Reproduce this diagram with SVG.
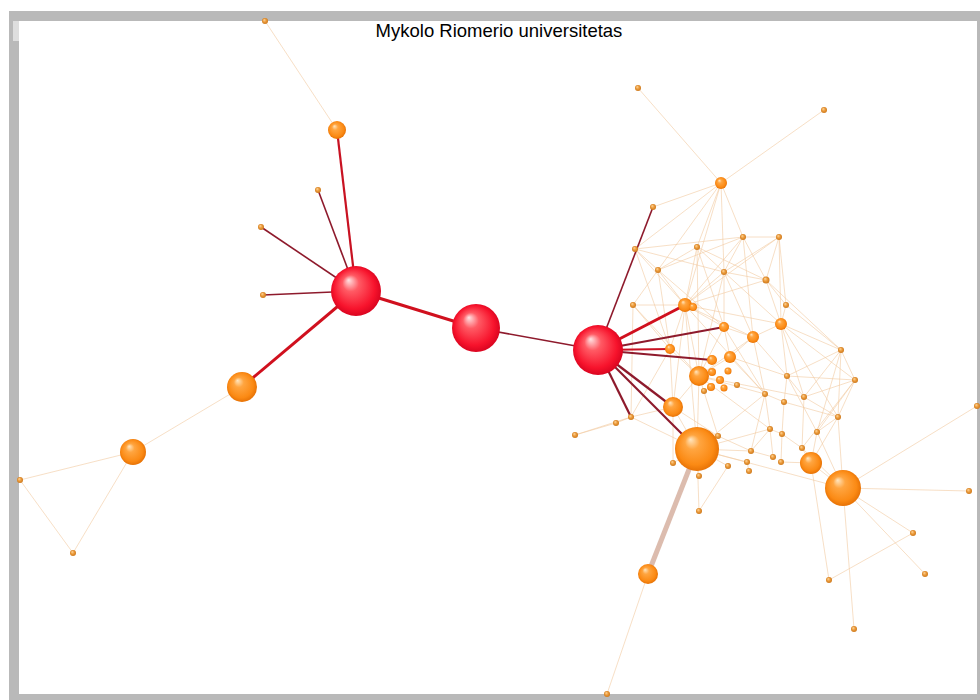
<svg xmlns="http://www.w3.org/2000/svg" width="980" height="700" viewBox="0 0 980 700">
<defs>
<radialGradient id="gR" cx="0.5" cy="0.5" r="0.55" fx="0.35" fy="0.28">
<stop offset="0" stop-color="#ffe4e4"/>
<stop offset="0.3" stop-color="#ff5a64"/>
<stop offset="0.75" stop-color="#f7132c"/>
<stop offset="1" stop-color="#d0001c"/>
</radialGradient>
<radialGradient id="gO" cx="0.5" cy="0.5" r="0.55" fx="0.35" fy="0.28">
<stop offset="0" stop-color="#ffe6c0"/>
<stop offset="0.3" stop-color="#ffa540"/>
<stop offset="0.75" stop-color="#fb8a14"/>
<stop offset="1" stop-color="#e06a00"/>
</radialGradient>
<radialGradient id="gS" cx="0.5" cy="0.5" r="0.55" fx="0.35" fy="0.3">
<stop offset="0" stop-color="#ffd9a0"/>
<stop offset="0.5" stop-color="#eb9a3a"/>
<stop offset="1" stop-color="#c97418"/>
</radialGradient>
</defs>
<style>
.r{fill:url(#gR)}
.o{fill:url(#gO)}
.s{fill:url(#gS)}
.lt{stroke:#f1caa0;stroke-width:1;stroke-opacity:0.6;fill:none}
.rd{stroke:#d0101e;stroke-width:3;fill:none}
.rd2{stroke:#c81222;stroke-width:2.2;fill:none}
.mr{stroke:#8e1a2c;stroke-width:1.6;fill:none}
.mr2{stroke:#8e1a2c;stroke-width:2.2;fill:none}
.tan{stroke:#dcbcae;stroke-width:5;fill:none}
.title{font-family:"Liberation Sans",Arial,sans-serif;font-size:18.5px;fill:#000}
</style>
<rect x="9" y="11" width="971" height="689" fill="#b9b9b9"/>
<rect x="19" y="21" width="958" height="673" fill="#ffffff"/>
<rect x="13" y="21" width="6" height="20" fill="#dedede"/>
<text class="title" x="499" y="37" text-anchor="middle">Mykolo Riomerio universitetas</text>
<g id="connectors">
<g id="light-edges">
<line class="lt" x1="265" y1="21" x2="337" y2="130"/>
<line class="lt" x1="242" y1="387" x2="133" y2="452"/>
<line class="lt" x1="133" y1="452" x2="20" y2="480"/>
<line class="lt" x1="133" y1="452" x2="73" y2="553"/>
<line class="lt" x1="20" y1="480" x2="73" y2="553"/>
<line class="lt" x1="721" y1="183" x2="638" y2="88"/>
<line class="lt" x1="721" y1="183" x2="824" y2="110"/>
<line class="lt" x1="721" y1="183" x2="653" y2="207"/>
<line class="lt" x1="721" y1="183" x2="635" y2="249"/>
<line class="lt" x1="721" y1="183" x2="697" y2="247"/>
<line class="lt" x1="721" y1="183" x2="743" y2="237"/>
<line class="lt" x1="721" y1="183" x2="658" y2="270"/>
<line class="lt" x1="721" y1="183" x2="685" y2="305"/>
<line class="lt" x1="721" y1="183" x2="724" y2="272"/>
<line class="lt" x1="635" y1="249" x2="743" y2="237"/>
<line class="lt" x1="635" y1="249" x2="658" y2="270"/>
<line class="lt" x1="635" y1="249" x2="685" y2="305"/>
<line class="lt" x1="635" y1="249" x2="670" y2="349"/>
<line class="lt" x1="635" y1="249" x2="724" y2="272"/>
<line class="lt" x1="697" y1="247" x2="658" y2="270"/>
<line class="lt" x1="697" y1="247" x2="685" y2="305"/>
<line class="lt" x1="697" y1="247" x2="724" y2="327"/>
<line class="lt" x1="697" y1="247" x2="724" y2="272"/>
<line class="lt" x1="697" y1="247" x2="766" y2="280"/>
<line class="lt" x1="697" y1="247" x2="699" y2="376"/>
<line class="lt" x1="743" y1="237" x2="779" y2="237"/>
<line class="lt" x1="743" y1="237" x2="766" y2="280"/>
<line class="lt" x1="743" y1="237" x2="724" y2="272"/>
<line class="lt" x1="743" y1="237" x2="685" y2="305"/>
<line class="lt" x1="743" y1="237" x2="753" y2="337"/>
<line class="lt" x1="743" y1="237" x2="658" y2="270"/>
<line class="lt" x1="779" y1="237" x2="766" y2="280"/>
<line class="lt" x1="779" y1="237" x2="786" y2="305"/>
<line class="lt" x1="779" y1="237" x2="724" y2="272"/>
<line class="lt" x1="779" y1="237" x2="781" y2="324"/>
<line class="lt" x1="779" y1="237" x2="685" y2="305"/>
<line class="lt" x1="658" y1="270" x2="685" y2="305"/>
<line class="lt" x1="658" y1="270" x2="633" y2="305"/>
<line class="lt" x1="658" y1="270" x2="724" y2="327"/>
<line class="lt" x1="658" y1="270" x2="670" y2="349"/>
<line class="lt" x1="724" y1="272" x2="685" y2="305"/>
<line class="lt" x1="724" y1="272" x2="724" y2="327"/>
<line class="lt" x1="724" y1="272" x2="753" y2="337"/>
<line class="lt" x1="724" y1="272" x2="781" y2="324"/>
<line class="lt" x1="724" y1="272" x2="766" y2="280"/>
<line class="lt" x1="724" y1="272" x2="699" y2="376"/>
<line class="lt" x1="766" y1="280" x2="781" y2="324"/>
<line class="lt" x1="766" y1="280" x2="786" y2="305"/>
<line class="lt" x1="766" y1="280" x2="685" y2="305"/>
<line class="lt" x1="766" y1="280" x2="841" y2="350"/>
<line class="lt" x1="633" y1="305" x2="685" y2="305"/>
<line class="lt" x1="633" y1="305" x2="670" y2="349"/>
<line class="lt" x1="633" y1="305" x2="631" y2="417"/>
<line class="lt" x1="633" y1="305" x2="699" y2="376"/>
<line class="lt" x1="685" y1="305" x2="724" y2="327"/>
<line class="lt" x1="685" y1="305" x2="670" y2="349"/>
<line class="lt" x1="685" y1="305" x2="699" y2="376"/>
<line class="lt" x1="685" y1="305" x2="673" y2="407"/>
<line class="lt" x1="685" y1="305" x2="753" y2="337"/>
<line class="lt" x1="685" y1="305" x2="697" y2="449"/>
<line class="lt" x1="685" y1="305" x2="765" y2="394"/>
<line class="lt" x1="685" y1="305" x2="781" y2="324"/>
<line class="lt" x1="786" y1="305" x2="841" y2="350"/>
<line class="lt" x1="786" y1="305" x2="781" y2="324"/>
<line class="lt" x1="724" y1="327" x2="753" y2="337"/>
<line class="lt" x1="724" y1="327" x2="730" y2="357"/>
<line class="lt" x1="724" y1="327" x2="699" y2="376"/>
<line class="lt" x1="724" y1="327" x2="765" y2="394"/>
<line class="lt" x1="781" y1="324" x2="753" y2="337"/>
<line class="lt" x1="781" y1="324" x2="841" y2="350"/>
<line class="lt" x1="781" y1="324" x2="855" y2="380"/>
<line class="lt" x1="781" y1="324" x2="787" y2="376"/>
<line class="lt" x1="781" y1="324" x2="804" y2="397"/>
<line class="lt" x1="781" y1="324" x2="838" y2="417"/>
<line class="lt" x1="753" y1="337" x2="730" y2="357"/>
<line class="lt" x1="753" y1="337" x2="699" y2="376"/>
<line class="lt" x1="753" y1="337" x2="765" y2="394"/>
<line class="lt" x1="753" y1="337" x2="787" y2="376"/>
<line class="lt" x1="670" y1="349" x2="699" y2="376"/>
<line class="lt" x1="670" y1="349" x2="673" y2="407"/>
<line class="lt" x1="670" y1="349" x2="631" y2="417"/>
<line class="lt" x1="730" y1="357" x2="699" y2="376"/>
<line class="lt" x1="730" y1="357" x2="765" y2="394"/>
<line class="lt" x1="730" y1="357" x2="787" y2="376"/>
<line class="lt" x1="841" y1="350" x2="855" y2="380"/>
<line class="lt" x1="841" y1="350" x2="787" y2="376"/>
<line class="lt" x1="841" y1="350" x2="804" y2="397"/>
<line class="lt" x1="841" y1="350" x2="817" y2="432"/>
<line class="lt" x1="841" y1="350" x2="838" y2="417"/>
<line class="lt" x1="699" y1="376" x2="673" y2="407"/>
<line class="lt" x1="699" y1="376" x2="697" y2="449"/>
<line class="lt" x1="699" y1="376" x2="765" y2="394"/>
<line class="lt" x1="699" y1="376" x2="718" y2="436"/>
<line class="lt" x1="699" y1="376" x2="770" y2="429"/>
<line class="lt" x1="699" y1="376" x2="804" y2="397"/>
<line class="lt" x1="787" y1="376" x2="855" y2="380"/>
<line class="lt" x1="787" y1="376" x2="804" y2="397"/>
<line class="lt" x1="787" y1="376" x2="784" y2="402"/>
<line class="lt" x1="787" y1="376" x2="817" y2="432"/>
<line class="lt" x1="855" y1="380" x2="838" y2="417"/>
<line class="lt" x1="855" y1="380" x2="804" y2="397"/>
<line class="lt" x1="855" y1="380" x2="802" y2="448"/>
<line class="lt" x1="855" y1="380" x2="817" y2="432"/>
<line class="lt" x1="765" y1="394" x2="770" y2="429"/>
<line class="lt" x1="765" y1="394" x2="784" y2="402"/>
<line class="lt" x1="765" y1="394" x2="751" y2="451"/>
<line class="lt" x1="784" y1="402" x2="782" y2="434"/>
<line class="lt" x1="784" y1="402" x2="838" y2="417"/>
<line class="lt" x1="804" y1="397" x2="838" y2="417"/>
<line class="lt" x1="804" y1="397" x2="802" y2="448"/>
<line class="lt" x1="838" y1="417" x2="817" y2="432"/>
<line class="lt" x1="838" y1="417" x2="811" y2="463"/>
<line class="lt" x1="673" y1="407" x2="697" y2="449"/>
<line class="lt" x1="673" y1="407" x2="631" y2="417"/>
<line class="lt" x1="673" y1="407" x2="673" y2="463"/>
<line class="lt" x1="673" y1="407" x2="718" y2="436"/>
<line class="lt" x1="631" y1="417" x2="616" y2="423"/>
<line class="lt" x1="631" y1="417" x2="575" y2="435"/>
<line class="lt" x1="631" y1="417" x2="697" y2="449"/>
<line class="lt" x1="616" y1="423" x2="575" y2="435"/>
<line class="lt" x1="770" y1="429" x2="782" y2="434"/>
<line class="lt" x1="770" y1="429" x2="751" y2="451"/>
<line class="lt" x1="770" y1="429" x2="773" y2="457"/>
<line class="lt" x1="782" y1="434" x2="802" y2="448"/>
<line class="lt" x1="782" y1="434" x2="781" y2="462"/>
<line class="lt" x1="817" y1="432" x2="811" y2="463"/>
<line class="lt" x1="817" y1="432" x2="843" y2="488"/>
<line class="lt" x1="718" y1="436" x2="697" y2="449"/>
<line class="lt" x1="718" y1="436" x2="751" y2="451"/>
<line class="lt" x1="697" y1="449" x2="673" y2="463"/>
<line class="lt" x1="697" y1="449" x2="699" y2="476"/>
<line class="lt" x1="697" y1="449" x2="699" y2="511"/>
<line class="lt" x1="697" y1="449" x2="751" y2="451"/>
<line class="lt" x1="697" y1="449" x2="747" y2="462"/>
<line class="lt" x1="697" y1="449" x2="728" y2="466"/>
<line class="lt" x1="697" y1="449" x2="843" y2="488"/>
<line class="lt" x1="697" y1="449" x2="770" y2="429"/>
<line class="lt" x1="697" y1="449" x2="765" y2="394"/>
<line class="lt" x1="751" y1="451" x2="773" y2="457"/>
<line class="lt" x1="747" y1="462" x2="749" y2="471"/>
<line class="lt" x1="781" y1="462" x2="811" y2="463"/>
<line class="lt" x1="802" y1="448" x2="811" y2="463"/>
<line class="lt" x1="811" y1="463" x2="843" y2="488"/>
<line class="lt" x1="728" y1="466" x2="699" y2="511"/>
<line class="lt" x1="843" y1="488" x2="977" y2="406"/>
<line class="lt" x1="843" y1="488" x2="969" y2="491"/>
<line class="lt" x1="843" y1="488" x2="913" y2="533"/>
<line class="lt" x1="843" y1="488" x2="925" y2="574"/>
<line class="lt" x1="843" y1="488" x2="854" y2="629"/>
<line class="lt" x1="843" y1="488" x2="802" y2="448"/>
<line class="lt" x1="843" y1="488" x2="838" y2="417"/>
<line class="lt" x1="913" y1="533" x2="829" y2="580"/>
<line class="lt" x1="829" y1="580" x2="811" y2="463"/>
<line class="lt" x1="648" y1="574" x2="607" y2="694"/>
<line class="tan" x1="697" y1="449" x2="648" y2="574"/>
</g>
<g id="red-edges">
<line class="rd" x1="356" y1="291" x2="476" y2="328"/>
<line class="mr" x1="476" y1="328" x2="598" y2="350"/>
<line class="rd2" x1="356" y1="291" x2="337" y2="130"/>
<line class="mr" x1="356" y1="291" x2="318" y2="190"/>
<line class="mr" x1="356" y1="291" x2="261" y2="227"/>
<line class="mr" x1="356" y1="291" x2="263" y2="295"/>
<line class="rd" x1="356" y1="291" x2="242" y2="387"/>
<line class="mr" x1="598" y1="350" x2="653" y2="207"/>
<line class="rd" x1="598" y1="350" x2="685" y2="305"/>
<line class="mr2" x1="598" y1="350" x2="724" y2="327"/>
<line class="rd2" x1="598" y1="350" x2="670" y2="349"/>
<line class="mr2" x1="598" y1="350" x2="712" y2="360"/>
<line class="mr2" x1="598" y1="350" x2="631" y2="417"/>
<line class="mr2" x1="598" y1="350" x2="673" y2="407"/>
<line class="mr2" x1="598" y1="350" x2="697" y2="449"/>
</g>
</g>
<g id="n-r1"><circle class="r" cx="356" cy="291" r="25"/></g>
<g id="n-r2"><circle class="r" cx="476" cy="328" r="24"/></g>
<g id="n-r3"><circle class="r" cx="598" cy="350" r="25"/></g>
<g id="n-a1"><circle class="o" cx="337" cy="130" r="9"/></g>
<g id="n-a2"><circle class="o" cx="242" cy="387" r="15"/></g>
<g id="n-a3"><circle class="o" cx="133" cy="452" r="13"/></g>
<g id="n-a4"><circle class="s" cx="265" cy="21" r="3"/></g>
<g id="n-a5"><circle class="s" cx="318" cy="190" r="3"/></g>
<g id="n-a6"><circle class="s" cx="261" cy="227" r="3"/></g>
<g id="n-a7"><circle class="s" cx="263" cy="295" r="3"/></g>
<g id="n-a8"><circle class="s" cx="20" cy="480" r="3"/></g>
<g id="n-a9"><circle class="s" cx="73" cy="553" r="3"/></g>
<g id="n-t1"><circle class="s" cx="638" cy="88" r="3"/></g>
<g id="n-t2"><circle class="s" cx="824" cy="110" r="3"/></g>
<g id="n-c1"><circle class="o" cx="721" cy="183" r="6"/></g>
<g id="n-c2"><circle class="s" cx="653" cy="207" r="3"/></g>
<g id="n-c3"><circle class="s" cx="635" cy="249" r="3"/></g>
<g id="n-c4"><circle class="s" cx="697" cy="247" r="3"/></g>
<g id="n-c5"><circle class="s" cx="743" cy="237" r="3"/></g>
<g id="n-c6"><circle class="s" cx="779" cy="237" r="3"/></g>
<g id="n-c7"><circle class="s" cx="658" cy="270" r="3"/></g>
<g id="n-c8"><circle class="s" cx="724" cy="272" r="3"/></g>
<g id="n-c9"><circle class="s" cx="766" cy="280" r="3.5"/></g>
<g id="n-c10"><circle class="s" cx="633" cy="305" r="3"/></g>
<g id="n-c11"><circle class="o" cx="685" cy="305" r="7"/></g>
<g id="n-c12"><circle class="o" cx="693" cy="307" r="4"/></g>
<g id="n-c13"><circle class="s" cx="786" cy="305" r="3"/></g>
<g id="n-c14"><circle class="o" cx="724" cy="327" r="5"/></g>
<g id="n-c15"><circle class="o" cx="781" cy="324" r="6"/></g>
<g id="n-c16"><circle class="o" cx="753" cy="337" r="6"/></g>
<g id="n-c17"><circle class="o" cx="670" cy="349" r="5"/></g>
<g id="n-c18"><circle class="o" cx="730" cy="357" r="6"/></g>
<g id="n-c19"><circle class="o" cx="712" cy="360" r="5"/></g>
<g id="n-c20"><circle class="s" cx="841" cy="350" r="3"/></g>
<g id="n-c21"><circle class="o" cx="699" cy="376" r="10"/></g>
<g id="n-c51"><circle class="o" cx="712" cy="372" r="4"/></g>
<g id="n-c52"><circle class="o" cx="720" cy="380" r="4"/></g>
<g id="n-c53"><circle class="o" cx="711" cy="387" r="4"/></g>
<g id="n-c54"><circle class="o" cx="724" cy="388" r="3.5"/></g>
<g id="n-c55"><circle class="o" cx="728" cy="371" r="3.5"/></g>
<g id="n-c56"><circle class="s" cx="737" cy="385" r="3"/></g>
<g id="n-c57"><circle class="s" cx="704" cy="391" r="3"/></g>
<g id="n-c22"><circle class="s" cx="787" cy="376" r="3"/></g>
<g id="n-c23"><circle class="s" cx="855" cy="380" r="3"/></g>
<g id="n-c24"><circle class="s" cx="765" cy="394" r="3"/></g>
<g id="n-c25"><circle class="s" cx="784" cy="402" r="3"/></g>
<g id="n-c26"><circle class="s" cx="804" cy="397" r="3"/></g>
<g id="n-c27"><circle class="s" cx="838" cy="417" r="3"/></g>
<g id="n-c28"><circle class="o" cx="673" cy="407" r="10"/></g>
<g id="n-c29"><circle class="s" cx="631" cy="417" r="3"/></g>
<g id="n-c30"><circle class="s" cx="616" cy="423" r="3"/></g>
<g id="n-c31"><circle class="s" cx="575" cy="435" r="3"/></g>
<g id="n-c32"><circle class="s" cx="770" cy="429" r="3"/></g>
<g id="n-c33"><circle class="s" cx="782" cy="434" r="3"/></g>
<g id="n-c34"><circle class="s" cx="817" cy="432" r="3"/></g>
<g id="n-c35"><circle class="s" cx="718" cy="436" r="3"/></g>
<g id="n-c36"><circle class="o" cx="697" cy="449" r="22"/></g>
<g id="n-c37"><circle class="s" cx="751" cy="451" r="3"/></g>
<g id="n-c38"><circle class="s" cx="747" cy="462" r="3"/></g>
<g id="n-c39"><circle class="s" cx="773" cy="457" r="3"/></g>
<g id="n-c40"><circle class="s" cx="781" cy="462" r="3"/></g>
<g id="n-c41"><circle class="s" cx="802" cy="448" r="3"/></g>
<g id="n-c42"><circle class="o" cx="811" cy="463" r="11"/></g>
<g id="n-c43"><circle class="s" cx="749" cy="471" r="3"/></g>
<g id="n-c44"><circle class="s" cx="673" cy="463" r="3"/></g>
<g id="n-c45"><circle class="s" cx="728" cy="466" r="3"/></g>
<g id="n-c46"><circle class="s" cx="699" cy="476" r="3"/></g>
<g id="n-c47"><circle class="o" cx="843" cy="488" r="18"/></g>
<g id="n-c48"><circle class="s" cx="699" cy="511" r="3"/></g>
<g id="n-c49"><circle class="o" cx="648" cy="574" r="10"/></g>
<g id="n-c50"><circle class="s" cx="607" cy="694" r="3"/></g>
<g id="n-s1"><circle class="s" cx="977" cy="406" r="3"/></g>
<g id="n-s2"><circle class="s" cx="969" cy="491" r="3"/></g>
<g id="n-s3"><circle class="s" cx="913" cy="533" r="3"/></g>
<g id="n-s4"><circle class="s" cx="925" cy="574" r="3"/></g>
<g id="n-s5"><circle class="s" cx="829" cy="580" r="3"/></g>
<g id="n-s6"><circle class="s" cx="854" cy="629" r="3"/></g>
</svg>
